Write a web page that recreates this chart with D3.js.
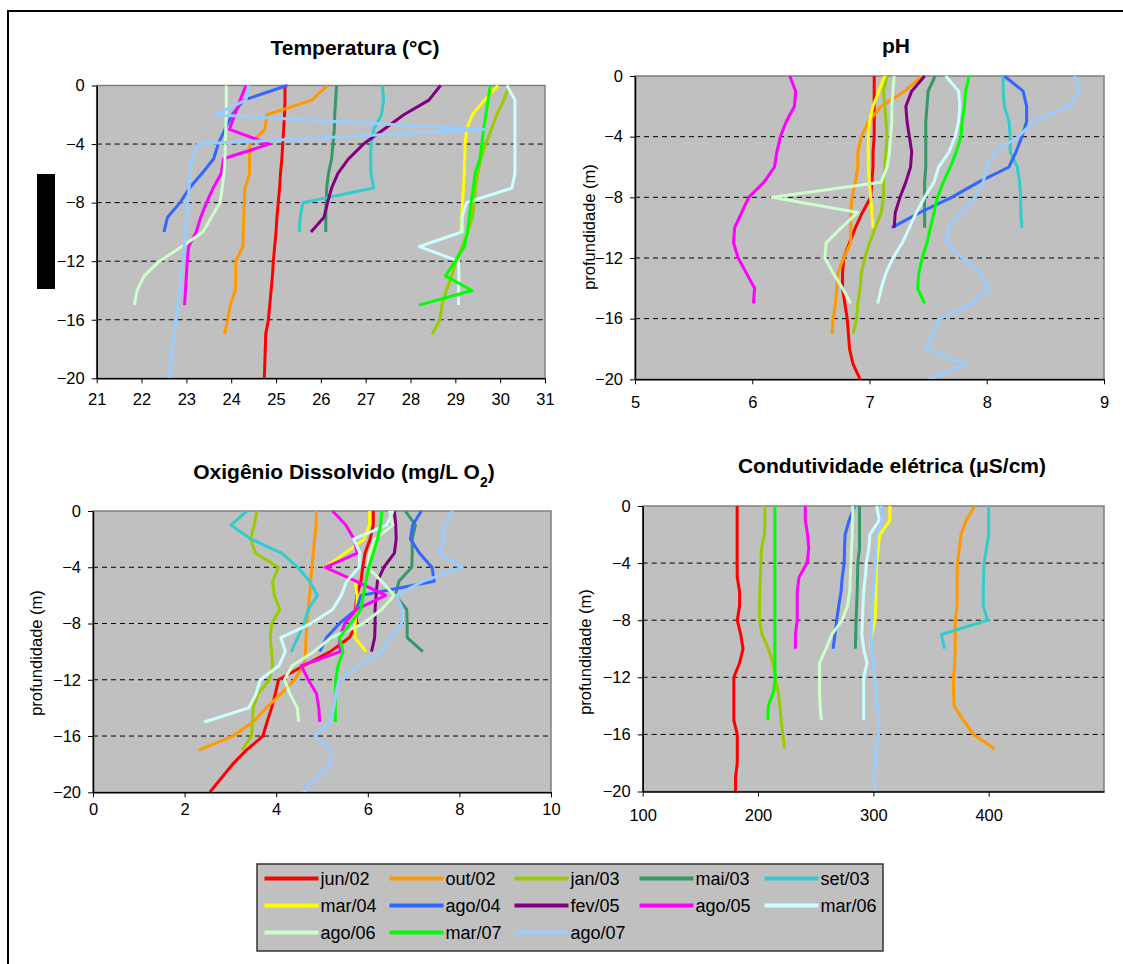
<!DOCTYPE html>
<html>
<head>
<meta charset="utf-8">
<script src="https://cdn.jsdelivr.net/npm/d3@7"></script>
<style>
  body { margin: 0; background: #fff; }
  text { font-family: Arial, "Liberation Sans", sans-serif; }
</style>
</head>
<body>
<div id="chart"></div>
<script>
// Series (campaigns), in legend order
var seriesNames = ["jun/02", "out/02", "jan/03", "mai/03", "set/03",
  "mar/04", "ago/04", "fev/05", "ago/05", "mar/06",
  "ago/06", "mar/07", "ago/07"];
var seriesColors = ["#ff0000", "#ff9900", "#99cc00", "#339966", "#33cccc",
  "#ffff00", "#3366ff", "#800080", "#ff00ff", "#ccffff",
  "#ccffcc", "#00ff00", "#99ccff"];

// depth ticks (m); every profile value i is at depth -i
var depthTicks = [0, -4, -8, -12, -16, -20];

// Temperatura (°C), one array per series
var temperatura = [
  [25.2, 25.2, 25.19, 25.17, 25.15, 25.13, 25.1, 25.08, 25.05, 25.02, 25.0, 24.97, 24.94, 24.92, 24.89, 24.86, 24.83, 24.77, 24.76, 24.75, 24.74],
  [26.15, 25.8, 24.8, 24.75, 24.42, 24.41, 24.41, 24.31, 24.29, 24.28, 24.27, 24.26, 24.1, 24.1, 24.09, 23.98, 23.92, 23.85],
  [30.2, 30.08, 29.92, 29.8, 29.68, 29.57, 29.5, 29.45, 29.42, 29.38, 29.28, 29.15, 29.02, 28.92, 28.8, 28.7, 28.66, 28.48],
  [26.35, 26.33, 26.31, 26.3, 26.27, 26.24, 26.17, 26.13, 26.12, 26.11, 26.11],
  [27.37, 27.4, 27.35, 27.18, 27.12, 27.11, 27.12, 27.18, 25.6, 25.54, 25.52],
  [29.95, 29.65, 29.38, 29.25, 29.22, 29.21, 29.2, 29.18, 29.16, 29.14, 29.13],
  [25.25, 24.28, 24.02, 23.86, 23.71, 23.61, 23.35, 23.07, 22.86, 22.58, 22.5],
  [28.67, 28.41, 27.85, 27.4, 26.95, 26.62, 26.38, 26.24, 26.15, 26.07, 25.78],
  [24.33, 24.2, 24.08, 23.96, 24.85, 23.83, 23.78, 23.6, 23.45, 23.32, 23.22, 23.05, 23.02, 23.0, 22.98, 22.96],
  [30.15, 30.33, 30.33, 30.33, 30.33, 30.33, 30.33, 30.26, 29.25, 29.15, 29.15, 28.2, 29.07, 29.08, 29.07, 29.07],
  [23.89, 23.89, 23.89, 23.88, 23.87, 23.86, 23.84, 23.8, 23.75, 23.56, 23.37, 22.9, 22.4, 22.06, 21.9, 21.84],
  [29.78, 29.73, 29.68, 29.63, 29.59, 29.55, 29.44, 29.4, 29.35, 29.31, 29.27, 29.2, 29.0, 28.78, 29.37, 28.19],
  [24.39, 24.33, 23.63, 29.63, 23.26, 23.12, 23.09, 23.06, 23.03, 23.01, 22.99, 22.95, 22.92, 22.88, 22.85, 22.81, 22.77, 22.73, 22.69, 22.65, 22.62]
];

// pH
var ph = [
  [7.04, 7.04, 7.04, 7.04, 7.04, 7.03, 7.03, 7.02, 7.01, 6.94, 6.88, 6.83, 6.78, 6.77, 6.77, 6.79, 6.81, 6.82, 6.83, 6.86, 6.92],
  [7.45, 7.3, 7.1, 6.99, 6.93, 6.9, 6.9, 6.88, 6.85, 6.84, 6.84, 6.84, 6.78, 6.73, 6.72, 6.71, 6.69, 6.68],
  [7.15, 7.12, 7.13, 7.14, 7.15, 7.14, 7.13, 7.12, 7.12, 7.1, 7.05, 7.0, 6.96, 6.93, 6.92, 6.9, 6.89, 6.86],
  [7.56, 7.5, 7.49, 7.48, 7.48, 7.48, 7.48, 7.47, 7.47, 7.47, 7.47],
  [8.14, 8.14, 8.15, 8.19, 8.2, 8.2, 8.26, 8.28, 8.29, 8.29, 8.3],
  [7.13, 7.08, 7.03, 7.0, 6.99, 6.99, 6.99, 7.0, 7.01, 7.02, 7.03],
  [8.15, 8.31, 8.34, 8.34, 8.3, 8.25, 8.19, 7.93, 7.7, 7.43, 7.19],
  [7.47, 7.36, 7.31, 7.32, 7.34, 7.36, 7.35, 7.31, 7.26, 7.22, 7.21],
  [6.32, 6.37, 6.36, 6.29, 6.24, 6.21, 6.19, 6.1, 5.97, 5.91, 5.85, 5.84, 5.88, 5.95, 6.02, 6.01],
  [7.65, 7.76, 7.77, 7.76, 7.73, 7.68, 7.59, 7.55, 7.47, 7.4, 7.34, 7.28, 7.2, 7.14, 7.1, 7.07],
  [7.21, 7.2, 7.19, 7.19, 7.18, 7.17, 7.15, 7.1, 6.17, 6.9, 6.76, 6.63, 6.62, 6.69, 6.77, 6.84],
  [7.85, 7.82, 7.81, 7.79, 7.78, 7.74, 7.69, 7.63, 7.58, 7.55, 7.52, 7.49, 7.45, 7.42, 7.41, 7.47],
  [8.75, 8.79, 8.7, 8.4, 8.27, 8.07, 8.0, 7.97, 7.9, 7.78, 7.67, 7.66, 7.79, 7.95, 8.02, 7.88, 7.6, 7.54, 7.48, 7.82, 7.51]
];

// Oxigenio dissolvido (mg/L O2)
var oxigenio = [
  [6.12, 6.12, 6.05, 5.94, 5.89, 5.85, 5.76, 5.73, 5.76, 5.6, 5.18, 4.6, 4.05, 3.98, 3.9, 3.8, 3.71, 3.35, 3.05, 2.8, 2.55],
  [4.88, 4.87, 4.84, 4.81, 4.78, 4.75, 4.73, 4.7, 4.67, 4.65, 4.64, 4.6, 4.4, 4.1, 3.78, 3.5, 3.05, 2.31],
  [3.58, 3.52, 3.44, 3.55, 4.05, 3.92, 3.96, 4.08, 3.9, 3.87, 3.9, 3.92, 3.85, 3.6, 3.5, 3.48, 3.46, 3.25],
  [6.82, 7.04, 6.97, 6.97, 6.96, 6.68, 6.6, 6.85, 6.86, 6.86, 7.2],
  [3.36, 3.01, 3.45, 4.12, 4.47, 4.73, 4.9, 4.7, 4.61, 4.47, 4.33],
  [6.04, 6.04, 5.92, 5.5, 5.07, 5.72, 5.77, 5.76, 5.72, 5.72, 5.96],
  [7.17, 6.98, 6.93, 7.13, 7.4, 7.45, 5.85, 5.75, 5.38, 5.1, 4.95],
  [6.58, 6.61, 6.62, 6.58, 6.35, 6.21, 6.18, 6.16, 6.16, 6.15, 6.08],
  [5.23, 5.52, 5.7, 5.77, 5.07, 5.75, 6.39, 5.75, 5.5, 5.38, 5.4, 4.55, 4.7, 4.88, 4.93, 4.95],
  [6.55, 6.41, 5.69, 5.83, 5.81, 5.54, 5.42, 5.23, 4.76, 4.1, 4.2, 4.06, 3.65, 3.56, 3.4, 2.43],
  [6.47, 6.55, 6.15, 6.04, 6.0, 6.3, 6.58, 6.3, 5.9, 5.2, 4.82, 4.35, 4.18, 4.3, 4.46, 4.49],
  [6.31, 6.28, 6.21, 6.12, 6.02, 5.96, 5.9, 5.85, 5.62, 5.38, 5.46, 5.35, 5.3, 5.29, 5.29, 5.29],
  [7.86, 7.67, 7.66, 7.55, 8.06, 7.2, 6.62, 6.76, 6.74, 6.5, 6.31, 5.8, 5.37, 5.3, 5.26, 5.18, 4.84, 5.19, 5.19, 4.85, 4.6]
];

// Condutividade eletrica (uS/cm); fev/05 not measured
var condutividade = [
  [181.9, 181.9, 181.9, 181.9, 181.9, 182, 184, 184, 182, 185, 187, 184, 179, 179, 179, 179, 182, 182, 182, 180.5, 180.5],
  [388, 380.5, 376, 374.5, 373, 372.6, 372.6, 372.6, 371, 371, 371, 370.5, 369.5, 369.5, 370, 378, 387, 405],
  [206, 206, 205.5, 203, 202.5, 202, 201.5, 201.3, 201.2, 203.5, 209, 213, 215, 217.5, 219, 220, 221.5, 223],
  [288, 288, 288, 288, 286.5, 286.3, 286, 285.5, 285, 284.7, 284.4],
  [400, 400, 400, 398, 396, 395.5, 395.3, 395.3, 399, 359, 361.7],
  [314.3, 314.3, 305.5, 304.2, 303, 302.5, 302.2, 302, 301.5, 298.5, 297.8],
  [283.8, 279, 275.5, 275, 274.7, 273, 272, 270, 268.2, 266.7, 265.1],
  null,
  [241, 241, 243, 244, 242.5, 235.5, 234, 234, 234, 232.4, 232.4],
  [303, 305, 297, 296, 294, 293, 291.6, 291, 290.5, 290, 291.6, 294.5, 291.6, 291.6, 291.6, 291.6],
  [282.2, 282, 281.7, 281, 280.5, 280, 279.5, 277.5, 273, 264, 258.9, 253.3, 253.3, 253.3, 253.8, 254.8],
  [214.6, 214.6, 214.6, 214.6, 214.6, 214.6, 214.6, 214.6, 214.6, 214.6, 214.6, 214.6, 215, 213.5, 209, 208.4],
  [307, 308, 303, 302.2, 301.8, 301, 300, 299.2, 298.6, 298, 298.5, 300, 301, 302.2, 303.5, 304.8, 304.5, 302, 301.5, 301, 301]
];

// x tick labels per panel
var tempTicks = [21, 22, 23, 24, 25, 26, 27, 28, 29, 30, 31];
var phTicks = [5, 6, 7, 8, 9];
var odTicks = [0, 2, 4, 6, 8, 10];
var condTicks = [100, 200, 300, 400];

var svgWidth = 1123;
var svgHeight = 964;

var svg = d3.select("#chart")
  .append("svg")
  .attr("width", svgWidth)
  .attr("height", svgHeight);

svg.append("rect")
  .attr("width", svgWidth)
  .attr("height", svgHeight)
  .attr("fill", "#fff");

// outer frame (runs off the right and bottom edges)
svg.append("rect")
  .attr("x", 8)
  .attr("y", 11)
  .attr("width", 1140)
  .attr("height", 980)
  .attr("fill", "none")
  .attr("stroke", "#000")
  .attr("stroke-width", 2);

function drawPanel(p, data) {
  var x = d3.scaleLinear().domain(p.domain).range([p.left, p.right]);
  var y = d3.scaleLinear().domain([0, -20]).range([p.top, p.bottom]);

  var g = svg.append("g");

  // plot area
  g.append("rect")
    .attr("x", p.left)
    .attr("y", p.top)
    .attr("width", p.right - p.left)
    .attr("height", p.bottom - p.top)
    .attr("fill", "#c0c0c0")
    .attr("stroke", "#808080")
    .attr("stroke-width", 1.5);

  // dashed gridlines
  g.selectAll(".grid")
    .data(depthTicks.slice(1, -1))
    .enter()
    .append("line")
    .attr("x1", p.left)
    .attr("x2", p.right)
    .attr("y1", d => y(d))
    .attr("y2", d => y(d))
    .attr("stroke", "#000")
    .attr("stroke-width", 1)
    .attr("stroke-dasharray", "5,4");

  // profiles
  var line = d3.line()
    .x(d => x(d))
    .y((d, i) => y(-i));

  data.forEach(function (vals, s) {
    if (!vals) return;
    g.append("path")
      .datum(vals)
      .attr("d", line)
      .attr("fill", "none")
      .attr("stroke", seriesColors[s])
      .attr("stroke-width", 3)
      .attr("stroke-linejoin", "round");
  });

  // axes
  var leftAxis = d3.axisLeft(y)
    .tickValues(depthTicks)
    .tickFormat(d3.format("d"))
    .tickSize(5)
    .tickSizeOuter(0)
    .tickPadding(7);
  var bottomAxis = d3.axisBottom(x)
    .tickValues(p.ticks)
    .tickFormat(d3.format("d"))
    .tickSize(5)
    .tickSizeOuter(0)
    .tickPadding(p.pad);

  var ly = g.append("g")
    .attr("transform", `translate(${p.left}, 0)`)
    .call(leftAxis);
  var lx = g.append("g")
    .attr("transform", `translate(0, ${p.bottom})`)
    .call(bottomAxis);

  [ly, lx].forEach(function (a) {
    a.select(".domain").attr("stroke", "#000").attr("stroke-width", 1.5);
    a.selectAll(".tick line").attr("stroke", "#000");
    a.selectAll("text")
      .style("font-size", "16.5px")
      .style("font-family", "Arial, 'Liberation Sans', sans-serif")
      .attr("fill", "#000");
  });

  // title
  var t = g.append("text")
    .attr("x", p.titleX)
    .attr("y", p.titleY)
    .attr("text-anchor", "middle")
    .style("font-size", "21px")
    .style("font-weight", "bold")
    .text(p.title);
  if (p.sub) {
    t.append("tspan").attr("baseline-shift", "sub").style("font-size", "14px").text(p.sub);
    t.append("tspan").text(")");
  }

  if (p.yLabel) {
    g.append("text")
      .attr("transform", `translate(${p.yLabelX}, ${p.yLabelY}) rotate(-90)`)
      .attr("text-anchor", "middle")
      .attr("dy", "0.35em")
      .style("font-size", "16.5px")
      .text("profundidade (m)");
  }
}

drawPanel({ left: 96.7, right: 545, top: 85.5, bottom: 378.3, domain: [21, 31], ticks: tempTicks,
  pad: 10, title: "Temperatura (°C)", titleX: 355, titleY: 55 }, temperatura);

drawPanel({ left: 635, right: 1104, top: 76, bottom: 379.3, domain: [5, 9], ticks: phTicks,
  pad: 12, title: "pH", titleX: 896, titleY: 52.5,
  yLabel: true, yLabelX: 589, yLabelY: 227 }, ph);

drawPanel({ left: 93, right: 551, top: 511, bottom: 792.3, domain: [0, 10], ticks: odTicks,
  pad: 5.5, title: "Oxigênio Dissolvido (mg/L O", sub: "2", titleX: 344, titleY: 479,
  yLabel: true, yLabelX: 36, yLabelY: 653 }, oxigenio);

drawPanel({ left: 642.7, right: 1104, top: 506, bottom: 791.5, domain: [100, 500], ticks: condTicks,
  pad: 13, title: "Condutividade elétrica (μS/cm)", titleX: 892, titleY: 473,
  yLabel: true, yLabelX: 585, yLabelY: 652 }, condutividade);

// black block over the first panel's axis title
svg.append("rect")
  .attr("x", 37)
  .attr("y", 174)
  .attr("width", 18)
  .attr("height", 115)
  .attr("fill", "#000");

// legend
var legend = svg.append("g");
legend.append("rect")
  .attr("x", 257)
  .attr("y", 864)
  .attr("width", 626)
  .attr("height", 87)
  .attr("fill", "#c0c0c0")
  .attr("stroke", "#333")
  .attr("stroke-width", 1.5);

var items = legend.selectAll(".item")
  .data(seriesNames)
  .enter()
  .append("g")
  .attr("transform", (d, i) => `translate(${264.5 + (i % 5) * 125}, ${878.5 + Math.floor(i / 5) * 27})`);

items.append("line")
  .attr("x1", 0)
  .attr("x2", 54)
  .attr("stroke", (d, i) => seriesColors[i])
  .attr("stroke-width", 4);

items.append("text")
  .attr("x", 56)
  .attr("dy", "0.36em")
  .style("font-size", "18px")
  .text(d => d);
</script>
</body>
</html>
